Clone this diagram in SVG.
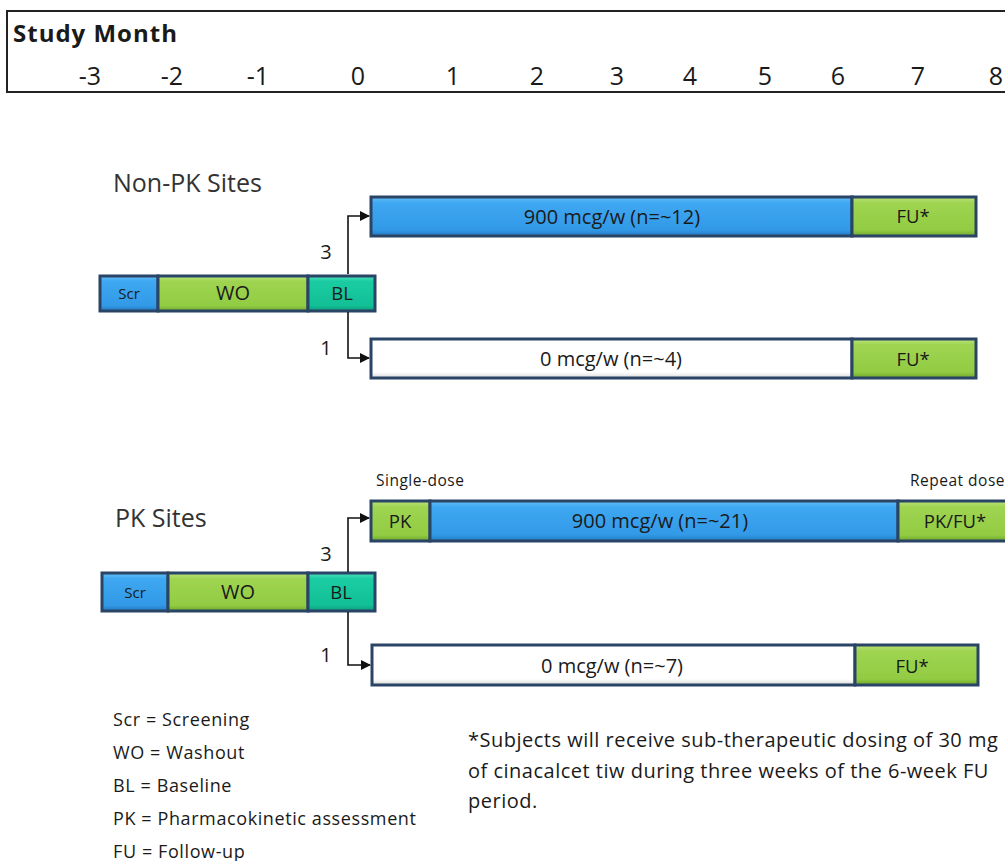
<svg xmlns="http://www.w3.org/2000/svg" width="1005" height="861" viewBox="0 0 1005 861">
<defs>
<style>
text{font-family:"Open Sans","Noto Sans","Liberation Sans",sans-serif;fill:#1a1a1a}
.hdr{font-size:24px;font-weight:bold;letter-spacing:1px}
.num{font-size:25px;text-anchor:middle}
.site{font-size:25px;fill:#333}
.lbl{font-size:20px;text-anchor:middle}
.fu{font-size:18.5px;text-anchor:middle}
.sm{font-size:15px;text-anchor:middle}
.cnt{font-size:20px;text-anchor:middle}
.note{font-size:15.5px;letter-spacing:0.5px}
.leg{font-size:18px;letter-spacing:0.6px}
.foot{font-size:20px;letter-spacing:0.5px}
.seg{stroke:#2a4466;stroke-width:3}
.conn{stroke:#111;stroke-width:1.6;fill:none}
</style>
<linearGradient id="gBlue" x1="0" y1="0" x2="0" y2="1"><stop offset="0" stop-color="#64bff7"/><stop offset="0.15" stop-color="#3fa8f2"/><stop offset="0.85" stop-color="#3199e6"/><stop offset="1" stop-color="#2478c0"/></linearGradient>
<linearGradient id="gGreen" x1="0" y1="0" x2="0" y2="1"><stop offset="0" stop-color="#bde47c"/><stop offset="0.15" stop-color="#9fd451"/><stop offset="0.85" stop-color="#92cc43"/><stop offset="1" stop-color="#6fa52c"/></linearGradient>
<linearGradient id="gTeal" x1="0" y1="0" x2="0" y2="1"><stop offset="0" stop-color="#4fe0bc"/><stop offset="0.15" stop-color="#1bcca2"/><stop offset="0.85" stop-color="#12bf97"/><stop offset="1" stop-color="#0e9b7a"/></linearGradient>
<linearGradient id="gWhite" x1="0" y1="0" x2="0" y2="1"><stop offset="0" stop-color="#ffffff"/><stop offset="0.85" stop-color="#ffffff"/><stop offset="1" stop-color="#d8d8d8"/></linearGradient>
<marker id="arr" markerWidth="10" markerHeight="10" refX="9" refY="5" orient="auto" markerUnits="userSpaceOnUse"><path d="M0,0 L10,5 L0,10 z" fill="#111"/></marker>
</defs>
<rect width="1005" height="861" fill="#fff"/>

<g id="header">
<path d="M1010,11 H7 V92 H1010" fill="#fff" stroke="#222" stroke-width="2"/>
<text x="13" y="42" class="hdr">Study Month</text>
<text x="90" y="85" class="num">-3</text>
<text x="172" y="85" class="num">-2</text>
<text x="258" y="85" class="num">-1</text>
<text x="358" y="85" class="num">0</text>
<text x="453" y="85" class="num">1</text>
<text x="537" y="85" class="num">2</text>
<text x="617" y="85" class="num">3</text>
<text x="690" y="85" class="num">4</text>
<text x="765" y="85" class="num">5</text>
<text x="838" y="85" class="num">6</text>
<text x="918" y="85" class="num">7</text>
<text x="996" y="85" class="num">8</text>
</g>

<g id="nonpk-title"><text x="113" y="192" class="site">Non-PK Sites</text></g>

<g id="nonpk-baseline">
<rect x="100" y="276" width="58" height="35" fill="url(#gBlue)" class="seg"/>
<rect x="158" y="276" width="150" height="35" fill="url(#gGreen)" class="seg"/>
<rect x="308" y="276" width="67" height="35" fill="url(#gTeal)" class="seg"/>
<text x="129" y="299" class="sm">Scr</text>
<text x="233" y="300" class="lbl">WO</text>
<text x="342" y="300" class="fu" font-size="17.5">BL</text>
</g>

<g id="nonpk-active">
<rect x="371" y="197" width="481" height="39" fill="url(#gBlue)" class="seg"/>
<rect x="852" y="197" width="124" height="39" fill="url(#gGreen)" class="seg"/>
<text x="612" y="224" class="lbl">900 mcg/w (n=~12)</text>
<text x="913" y="223" class="fu">FU*</text>
</g>

<g id="nonpk-placebo">
<rect x="371" y="339" width="481" height="39" fill="url(#gWhite)" class="seg"/>
<rect x="852" y="339" width="124" height="39" fill="url(#gGreen)" class="seg"/>
<text x="611" y="366" class="lbl">0 mcg/w (n=~4)</text>
<text x="913" y="366" class="fu">FU*</text>
</g>

<g id="pk-title"><text x="115" y="527" class="site">PK Sites</text></g>

<g id="pk-notes">
<text x="376" y="486" class="note">Single-dose</text>
<text x="910" y="486" class="note">Repeat dose</text>
</g>

<g id="pk-baseline">
<rect x="102" y="573" width="66" height="38" fill="url(#gBlue)" class="seg"/>
<rect x="168" y="573" width="140" height="38" fill="url(#gGreen)" class="seg"/>
<rect x="308" y="573" width="67" height="38" fill="url(#gTeal)" class="seg"/>
<text x="135" y="598" class="sm">Scr</text>
<text x="238" y="599" class="lbl">WO</text>
<text x="341" y="599" class="fu" font-size="17.5">BL</text>
</g>

<g id="pk-active">
<rect x="371" y="501" width="59" height="40" fill="url(#gGreen)" class="seg"/>
<rect x="430" y="501" width="468" height="40" fill="url(#gBlue)" class="seg"/>
<rect x="898" y="501" width="120" height="40" fill="url(#gGreen)" class="seg"/>
<text x="400" y="528" class="fu" font-size="19">PK</text>
<text x="660" y="528" class="lbl">900 mcg/w (n=~21)</text>
<text x="955" y="528" class="fu">PK/FU*</text>
</g>

<g id="pk-placebo">
<rect x="372" y="645" width="483" height="40" fill="url(#gWhite)" class="seg"/>
<rect x="855" y="645" width="123" height="40" fill="url(#gGreen)" class="seg"/>
<text x="612" y="673" class="lbl">0 mcg/w (n=~7)</text>
<text x="912" y="673" class="fu">FU*</text>
</g>

<g id="connectors">
<path class="conn" d="M348,274 V216 H369" marker-end="url(#arr)"/>
<path class="conn" d="M348,312 V358 H369" marker-end="url(#arr)"/>
<path class="conn" d="M348,572 V518 H369" marker-end="url(#arr)"/>
<path class="conn" d="M348,612 V665 H370" marker-end="url(#arr)"/>
<text x="326" y="259" class="cnt">3</text>
<text x="326" y="355" class="cnt">1</text>
<text x="326" y="561" class="cnt">3</text>
<text x="326" y="662" class="cnt">1</text>
</g>

<g id="legend">
<text x="113" y="726" class="leg">Scr = Screening</text>
<text x="113" y="759" class="leg">WO = Washout</text>
<text x="113" y="792" class="leg">BL = Baseline</text>
<text x="113" y="825" class="leg">PK = Pharmacokinetic assessment</text>
<text x="113" y="858" class="leg">FU = Follow-up</text>
</g>

<g id="footnote">
<text x="468" y="747" class="foot">*Subjects will receive sub-therapeutic dosing of 30 mg</text>
<text x="468" y="778" class="foot">of cinacalcet tiw during three weeks of the 6-week FU</text>
<text x="468" y="808" class="foot">period.</text>
</g>
</svg>
